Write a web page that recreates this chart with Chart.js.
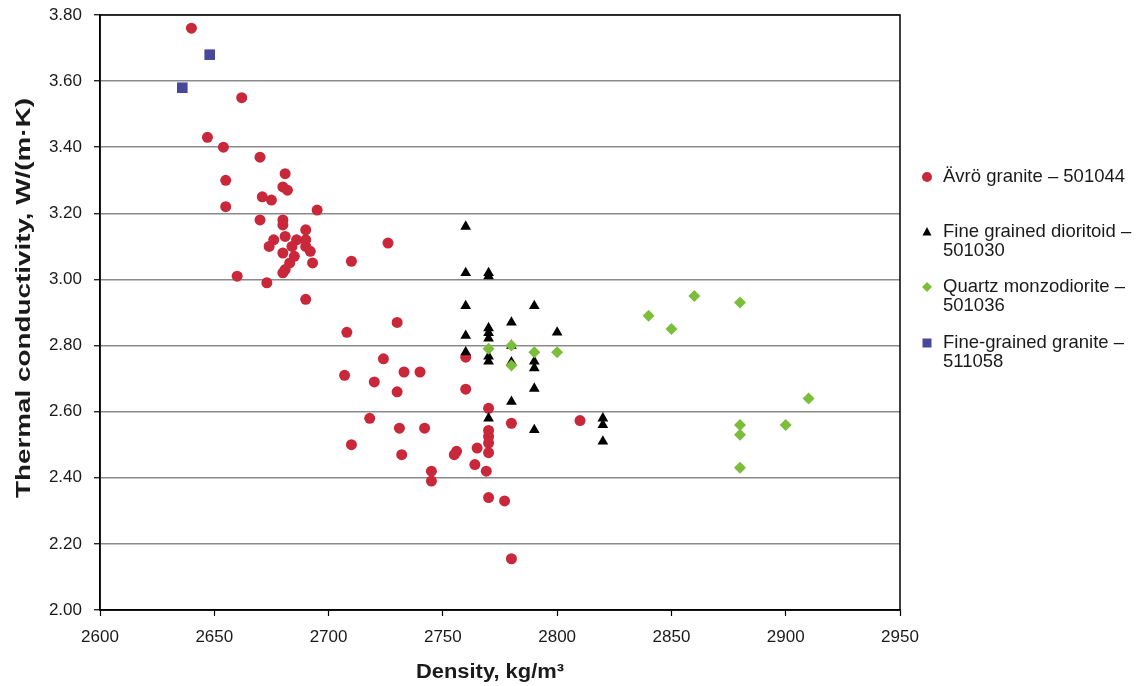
<!DOCTYPE html>
<html>
<head>
<meta charset="utf-8">
<script src="https://cdn.jsdelivr.net/npm/chart.js@4/dist/chart.umd.min.js"></script>
<style>
  html, body { margin: 0; padding: 0; background: #fff; }
  #wrap { width: 1143px; height: 686px; }
</style>
</head>
<body>
<div id="wrap"><canvas id="chart" width="1143" height="686"></canvas></div>
<script>
// values
const avroDensity = [2640, 2662, 2647, 2654, 2670, 2681, 2655, 2680, 2682, 2671, 2675, 2655, 2695, 2670, 2680, 2680,
  2690, 2681, 2676, 2686, 2690, 2674, 2684, 2690, 2680, 2692, 2685, 2683, 2693, 2681, 2680, 2660, 2673, 2690,
  2726, 2710, 2708, 2730, 2724, 2707, 2720, 2733, 2740, 2730, 2760, 2760, 2770, 2718, 2731, 2742, 2780, 2810,
  2710, 2732, 2770, 2770, 2770, 2770, 2765, 2755, 2756, 2764, 2769, 2745, 2745, 2770, 2777, 2780];
const avroCond = [3.76, 3.55, 3.43, 3.40, 3.37, 3.32, 3.30, 3.28, 3.27, 3.25, 3.24, 3.22, 3.21, 3.18, 3.18, 3.165,
  3.15, 3.13, 3.12, 3.12, 3.12, 3.10, 3.10, 3.10, 3.08, 3.085, 3.07, 3.05, 3.05, 3.03, 3.02, 3.01, 2.99, 2.94,
  3.11, 3.055, 2.84, 2.87, 2.76, 2.71, 2.69, 2.72, 2.72, 2.66, 2.765, 2.668, 2.61, 2.58, 2.55, 2.55, 2.565, 2.573,
  2.50, 2.47, 2.543, 2.525, 2.505, 2.476, 2.49, 2.47, 2.48, 2.44, 2.42, 2.42, 2.39, 2.34, 2.33, 2.155];

const diorDensity = [2760, 2760, 2770, 2770, 2760, 2790, 2780, 2770, 2770, 2770, 2800, 2760, 2760, 2770, 2770,
  2780, 2780, 2790, 2790, 2790, 2780, 2770, 2790, 2820, 2820, 2820];
const diorCond = [3.16, 3.02, 3.02, 3.01, 2.92, 2.92, 2.87, 2.853, 2.838, 2.822, 2.84, 2.83, 2.78, 2.767, 2.752,
  2.80, 2.75, 2.752, 2.732, 2.67, 2.63, 2.58, 2.545, 2.58, 2.56, 2.51];

const monzDensity = [2770, 2780, 2780, 2790, 2800, 2840, 2850, 2860, 2880, 2910, 2880, 2900, 2880, 2880];
const monzCond = [2.79, 2.80, 2.74, 2.78, 2.78, 2.89, 2.85, 2.95, 2.93, 2.64, 2.56, 2.56, 2.53, 2.43];

const fineDensity = [2636, 2648];
const fineCond = [3.58, 3.68];

const seriesLabels = [
  ['Ävrö granite – 501044'],
  ['Fine grained dioritoid –', '501030'],
  ['Quartz monzodiorite –', '501036'],
  ['Fine-grained granite –', '511058']
];
const seriesColors = ['#c8283a', '#000000', '#7dbd3c', '#48479a'];
const seriesShapes = ['circle', 'triangle', 'rectRot', 'rect'];

const xTitle = 'Density, kg/m³';
const yTitle = 'Thermal conductivity, W/(m·K)';

function pts(xs, ys) {
  return xs.map((x, i) => ({ x: x, y: ys[i] }));
}

const FONT = "'Liberation Sans', Arial, Helvetica, sans-serif";

// black frame around the plot area
const framePlugin = {
  id: 'frame',
  afterDraw(chart) {
    const a = chart.chartArea;
    const ctx = chart.ctx;
    ctx.save();
    ctx.strokeStyle = '#000';
    ctx.lineWidth = 1.5;
    ctx.strokeRect(a.left, a.top, a.right - a.left, a.bottom - a.top);
    ctx.restore();
  }
};

// axis titles, stretched a bit along the text like the original
function stretchedText(ctx, text, x, y, len, rot) {
  ctx.save();
  ctx.translate(x, y);
  ctx.rotate(rot);
  const w = ctx.measureText(text).width;
  ctx.scale(len / w, 1);
  ctx.fillText(text, 0, 0);
  ctx.restore();
}
const titlesPlugin = {
  id: 'titles',
  afterDraw(chart) {
    const ctx = chart.ctx;
    ctx.save();
    ctx.fillStyle = '#1a1a1a';
    ctx.font = 'bold 20px ' + FONT;
    ctx.textAlign = 'center';
    ctx.textBaseline = 'middle';
    stretchedText(ctx, xTitle, 490, 672, 148, 0);
    stretchedText(ctx, yTitle, 24, 298, 400, -Math.PI / 2);
    ctx.restore();
  }
};

// legend on the right with wrapped labels
const sideLegend = {
  id: 'sideLegend',
  afterDraw(chart) {
    const ctx = chart.ctx;
    const rows = [177, 232, 287, 343];
    const mx = 927, tx = 943;
    ctx.save();
    ctx.font = '18.5px ' + FONT;
    ctx.textBaseline = 'middle';
    ctx.textAlign = 'left';
    seriesLabels.forEach((lines, i) => {
      const y = rows[i];
      ctx.fillStyle = seriesColors[i];
      ctx.beginPath();
      if (seriesShapes[i] === 'circle') {
        ctx.arc(mx, y, 5, 0, Math.PI * 2);
      } else if (seriesShapes[i] === 'triangle') {
        ctx.moveTo(mx, y - 5);
        ctx.lineTo(mx + 4.5, y + 3.5);
        ctx.lineTo(mx - 4.5, y + 3.5);
        ctx.closePath();
      } else if (seriesShapes[i] === 'rectRot') {
        ctx.moveTo(mx, y - 5);
        ctx.lineTo(mx + 5, y);
        ctx.lineTo(mx, y + 5);
        ctx.lineTo(mx - 5, y);
        ctx.closePath();
      } else {
        ctx.rect(mx - 4.5, y - 4.5, 9, 9);
      }
      ctx.fill();
      ctx.fillStyle = '#1a1a1a';
      lines.forEach((t, j) => ctx.fillText(t, tx, y + j * 18.5));
    });
    ctx.restore();
  }
};

const ctx = document.getElementById('chart').getContext('2d');
new Chart(ctx, {
  type: 'scatter',
  data: {
    datasets: [
      { label: seriesLabels[0].join(' '), data: pts(avroDensity, avroCond), pointStyle: 'circle',
        pointRadius: 5.5, backgroundColor: seriesColors[0], borderWidth: 0, order: 4 },
      { label: seriesLabels[1].join(' '), data: pts(diorDensity, diorCond), pointStyle: 'triangle',
        pointRadius: 6.2, backgroundColor: seriesColors[1], borderWidth: 0, order: 3 },
      { label: seriesLabels[2].join(' '), data: pts(monzDensity, monzCond), pointStyle: 'rectRot',
        pointRadius: 6, backgroundColor: seriesColors[2], borderWidth: 0, order: 2 },
      { label: seriesLabels[3].join(' '), data: pts(fineDensity, fineCond), pointStyle: 'rect',
        pointRadius: 7.5, backgroundColor: seriesColors[3], borderWidth: 0, order: 1 }
    ]
  },
  options: {
    responsive: false,
    animation: false,
    layout: { padding: { left: 0, right: 243, top: 15, bottom: 0 } },
    plugins: { legend: { display: false }, tooltip: { enabled: false } },
    scales: {
      x: {
        type: 'linear',
        min: 2600, max: 2950,
        afterFit(s) { s.height = 76; s.paddingLeft = 0; s.paddingRight = 0; },
        ticks: { stepSize: 50, color: '#1a1a1a', padding: 11, font: { family: FONT, size: 17 },
          callback: v => String(v) },
        grid: { drawOnChartArea: false, tickLength: 6, tickColor: '#000', tickWidth: 1.2 },
        border: { color: '#000', width: 1.5 }
      },
      y: {
        type: 'linear',
        min: 2.0, max: 3.8,
        afterFit(s) { s.width = 100; s.paddingTop = 0; s.paddingBottom = 0; },
        ticks: { stepSize: 0.2, color: '#1a1a1a', padding: 12, font: { family: FONT, size: 17 },
          callback: v => v.toFixed(2) },
        grid: { color: '#8a8a8a', lineWidth: 1.5, tickLength: 6, tickColor: '#000', tickWidth: 1.2 },
        border: { color: '#000', width: 1.5 }
      }
    }
  },
  plugins: [framePlugin, titlesPlugin, sideLegend]
});
</script>
</body>
</html>
